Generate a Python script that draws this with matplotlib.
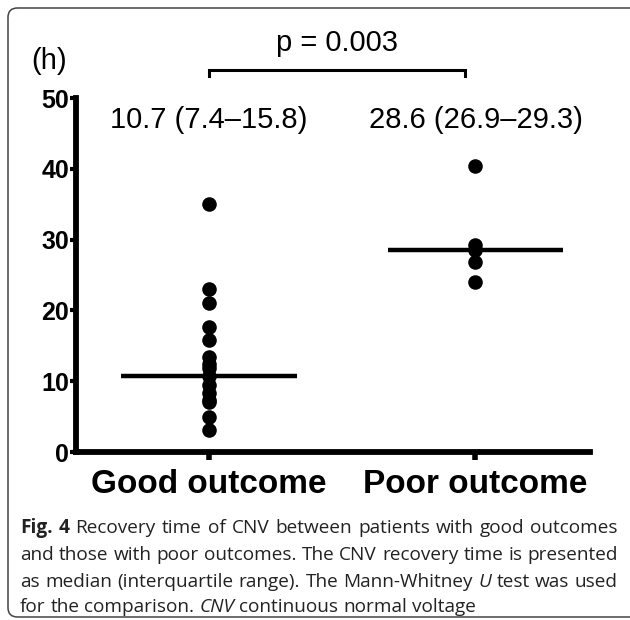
import matplotlib
matplotlib.use("Agg")
import matplotlib.pyplot as plt
from matplotlib.patches import FancyBboxPatch
import numpy as np

plt.rcParams["font.family"] = ["Liberation Sans", "DejaVu Sans"]

# data
groups = ["Good outcome", "Poor outcome"]
good_hours = [35.0, 23.0, 21.0, 17.7, 15.8, 13.4, 12.5, 11.8, 10.7,
              9.4, 8.4, 7.4, 7.0, 4.9, 3.1]
poor_hours = [40.4, 29.3, 28.6, 26.9, 24.0]
medians = [10.7, 28.6]
iqr_labels = ["10.7 (7.4\u201315.8)", "28.6 (26.9\u201329.3)"]
p_label = "p = 0.003"
yticks = [0, 10, 20, 30, 40, 50]

W, H = 630, 620
fig = plt.figure(figsize=(W / 100, H / 100), dpi=100)

# outer rounded frame (runs off the right side)
frame = FancyBboxPatch((8 / W, 3 / H), 640 / W, 609 / H,
                       boxstyle="round,pad=0,rounding_size=0.015",
                       transform=fig.transFigure, fill=False,
                       ec="#444444", lw=1.1, clip_on=False)
fig.patches.append(frame)

ax = fig.add_axes([76 / W, (H - 452) / H, (590 - 76) / W, (452 - 98) / H])
ax.set_xlim(-0.5, 1.43)
ax.set_ylim(0, 50)

for i, vals in enumerate([good_hours, poor_hours]):
    ax.scatter(np.full(len(vals), i), vals, s=110, color="black", zorder=3,
               clip_on=False, linewidths=0)
    ax.plot([i - 0.33, i + 0.33], [medians[i], medians[i]], color="black",
            lw=3.2, solid_capstyle="butt", zorder=2)
    ax.text(i, 46.9, iqr_labels[i], ha="center", va="center", fontsize=21)

for s in ["top", "right"]:
    ax.spines[s].set_visible(False)
for s in ["left", "bottom"]:
    ax.spines[s].set_linewidth(4.2)
    ax.spines[s].set_capstyle("projecting")

ax.set_yticks(yticks)
ax.set_yticklabels([str(t) for t in yticks], fontsize=18, fontweight="bold")
ax.tick_params(axis="y", length=4, width=3, pad=1)
ax.set_xticks([0, 1])
ax.set_xticklabels(groups, fontsize=24, fontweight="bold")
ax.tick_params(axis="x", length=6, width=4, pad=6)

# significance bracket
yb, yt = 54.0, 53.1
ax.plot([0, 0, 0.96, 0.96], [yt, yb, yb, yt], color="black", lw=2.2,
        clip_on=False, solid_joinstyle="miter")
ax.text(0.48, 57.8, p_label, ha="center", va="center", fontsize=21)
ax.text(-0.6, 55.2, "(h)", ha="center", va="center", fontsize=21)

# caption: justified lines, word by word so bold / italic parts can be mixed
cap_font = ["Open Sans", "DejaVu Sans"]
cap_size = 13.7
caption = [
    [("Fig.", "bold", "normal"), ("4", "bold", "normal"),
     ("Recovery time of CNV between patients with good outcomes", "normal", "normal")],
    [("and those with poor outcomes. The CNV recovery time is presented", "normal", "normal")],
    [("as median (interquartile range). The Mann-Whitney", "normal", "normal"),
     ("U", "normal", "italic"), ("test was used", "normal", "normal")],
    [("for the comparison.", "normal", "normal"), ("CNV", "normal", "italic"),
     ("continuous normal voltage", "normal", "normal")],
]
line_y = [528, 555, 582, 607]
x0, x1 = 20, 618
fig.canvas.draw()
renderer = fig.canvas.get_renderer()


def width_of(txt, weight, style):
    t = fig.text(0, 0, txt, fontsize=cap_size, family=cap_font,
                 fontweight=weight, fontstyle=style)
    w = t.get_window_extent(renderer).width
    t.remove()
    return w


space_w = width_of("a a", "normal", "normal") - width_of("aa", "normal", "normal")
for k, (parts, ly) in enumerate(zip(caption, line_y)):
    words = []
    for txt, weight, style in parts:
        for wd in txt.split(" "):
            words.append((wd, weight, style, width_of(wd, weight, style)))
    total = sum(w[3] for w in words)
    if k < len(caption) - 1:
        gap = max((x1 - x0 - total) / (len(words) - 1), 0.6 * space_w)
    else:
        gap = space_w
    x = x0
    for wd, weight, style, w in words:
        fig.text(x / W, (H - ly) / H, wd, fontsize=cap_size, family=cap_font,
                 fontweight=weight, fontstyle=style, va="center", ha="left",
                 color="#222222")
        x += w + gap

fig.savefig("out.png", dpi=100)
